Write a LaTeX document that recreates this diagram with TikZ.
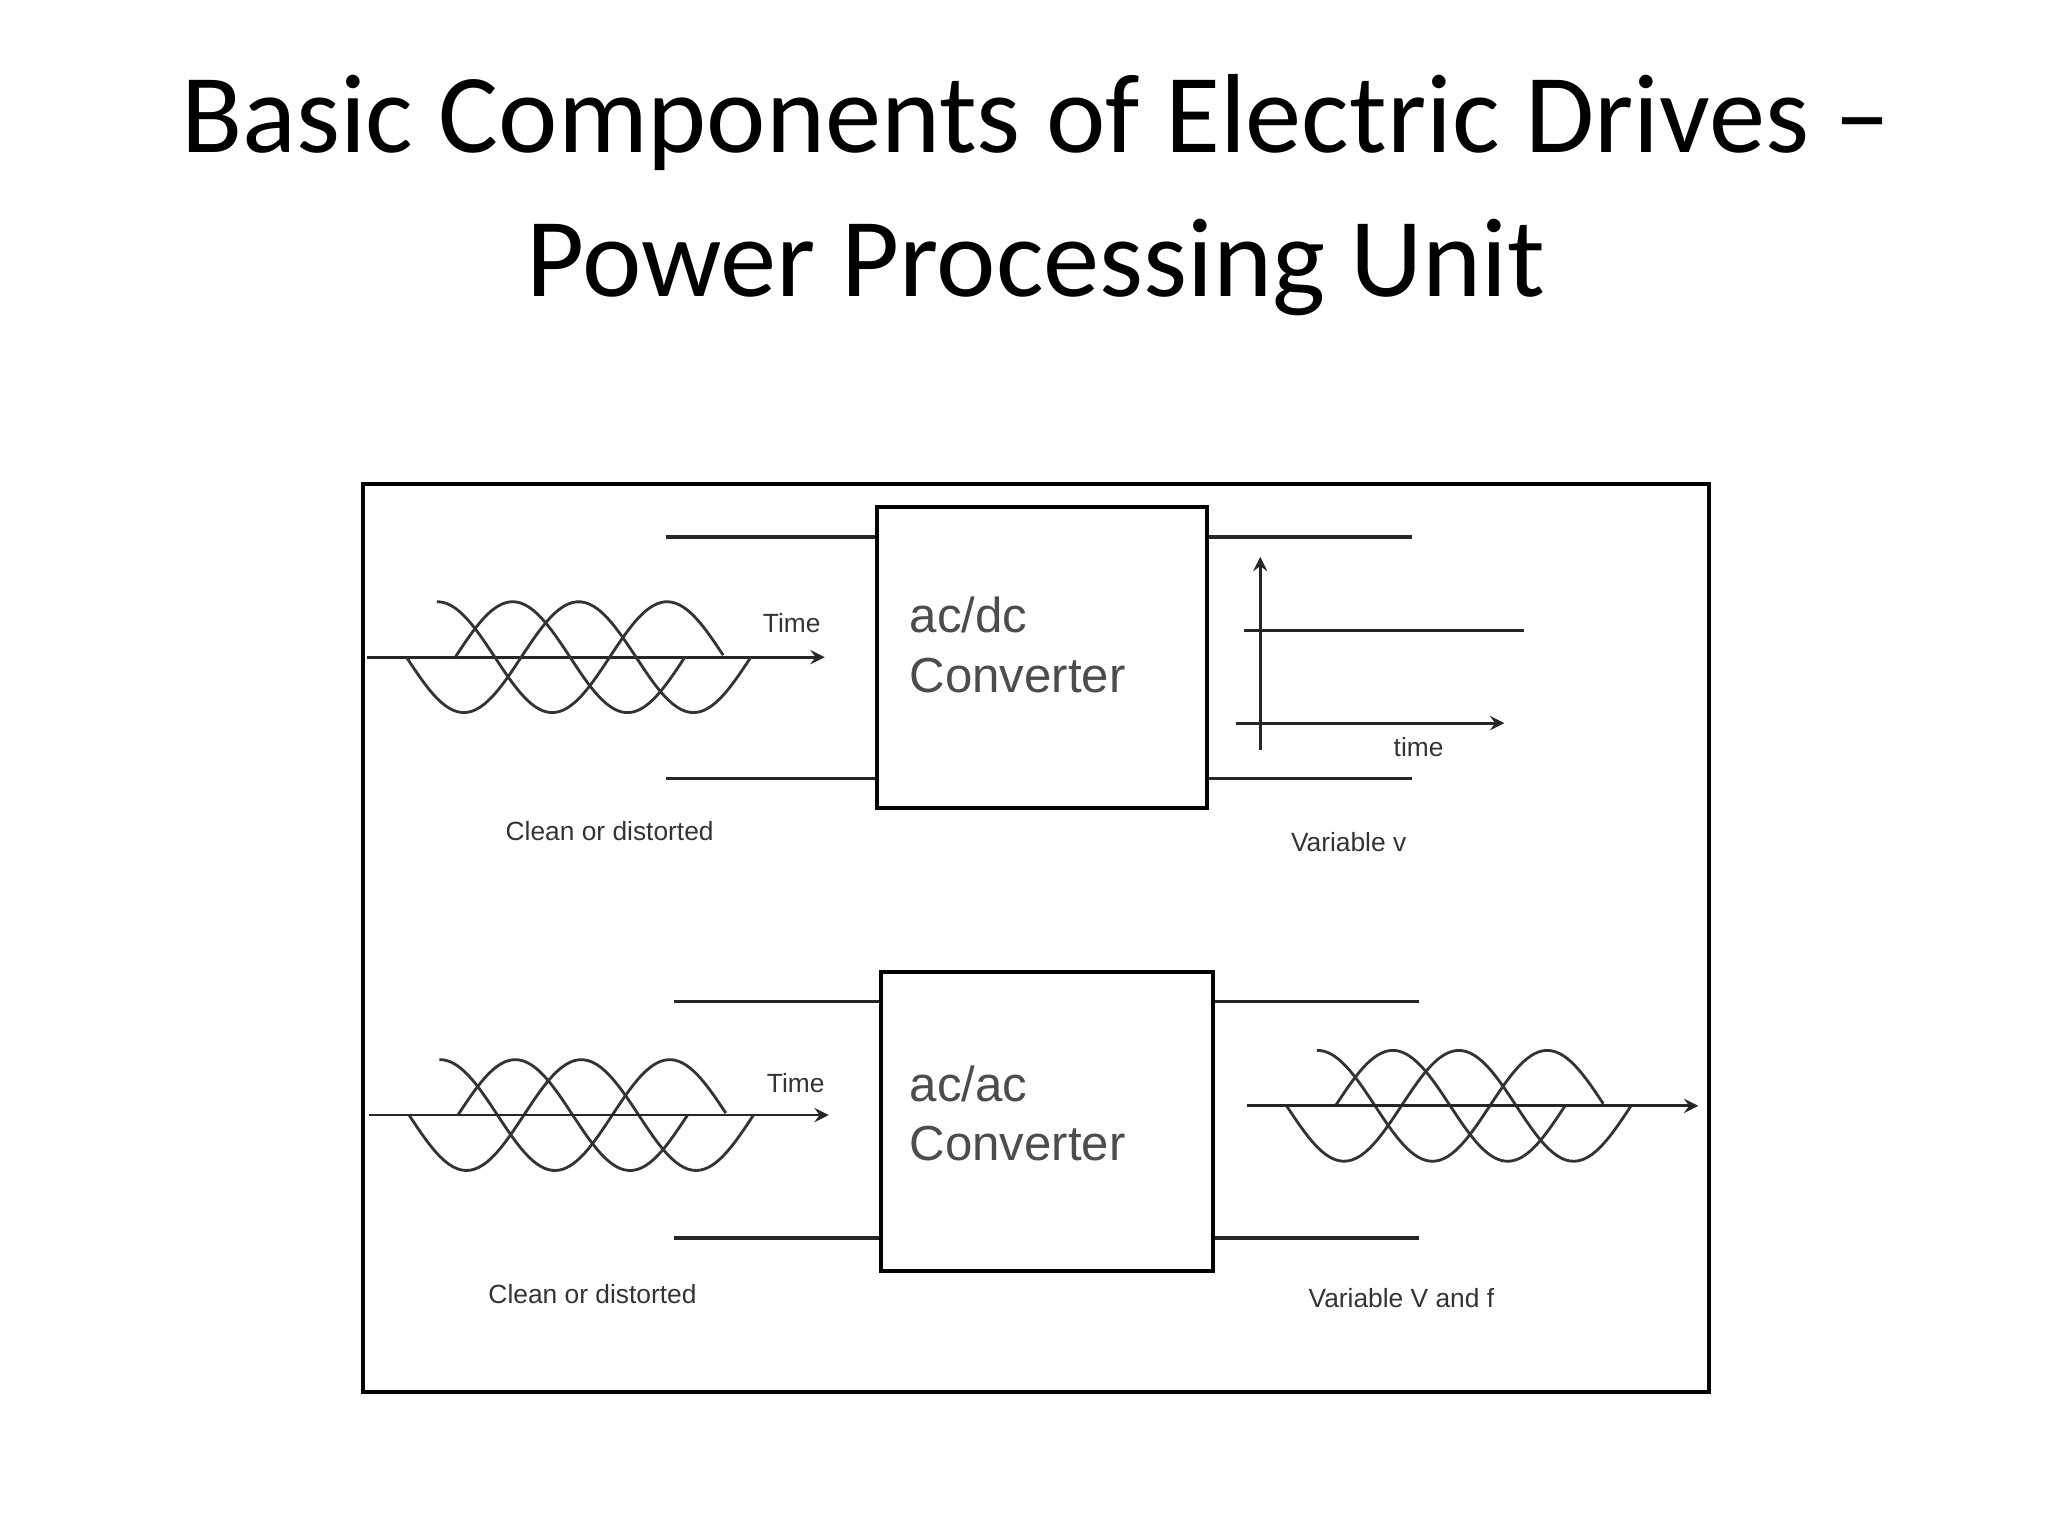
\documentclass[tikz,border=0pt]{standalone}
\usepackage{fontspec}
\setmainfont{Liberation Sans}
\newfontfamily\titlefont{Carlito}
\begin{document}
\begin{tikzpicture}[x=0.013196cm,y=-0.013196cm,
  ln/.style={line width=1pt,black!85},
  bx/.style={draw,line width=1.1pt,inner sep=0pt,anchor=north west},
  wave/.style={line width=0.8pt,black!80,samples=80},
  ax/.style={line width=0.8pt,black!85,-stealth},
  small/.style={font=\fontsize{7.5}{9}\selectfont,text=black!80},
  big/.style={font=\fontsize{14}{17}\selectfont,text=black!70,align=left,anchor=north west}]
\useasboundingbox (0,0) rectangle (1552,1164);
\node[font=\titlefont\fontsize{32}{41}\selectfont,align=center] (title) at (785,148) {Basic Components of Electric Drives \textendash\\Power Processing Unit};
\draw[line width=1.1pt] (275,367) rectangle (1295,1055);
% top
\node[bx,minimum width=250*0.013196cm,minimum height=228*0.013196cm] (b1) at (663,383) {};
\node[big] (t1) at (680,443) {ac/dc\\Converter};
\draw[ln] (505,407) -- (b1.north west|-0,407);
\draw[ln] (505,590) -- (b1.north west|-0,590);
\draw[ln] (b1.north east|-0,407) -- (1070,407);
\draw[ln] (b1.north east|-0,590) -- (1070,590);
\coordinate (a1s) at (278,498); \coordinate (a1e) at (625,498);
\draw[ax] (a1s) -- (a1e);
\foreach \dx/\dy in {0/498, 2/845, 667/838}{
  \draw[wave,domain=308:569,variable=\t] plot ({\t+\dx},{\dy+42*sin(2.069*(\t-308))});
  \draw[wave,domain=345:519,variable=\t] plot ({\t+\dx},{\dy-42*sin(2.069*(\t-345))});
  \draw[wave,domain=331:548,variable=\t] plot ({\t+\dx},{\dy-42*sin(2.069*(\t-288))});
}
\node[small] (time1) at (600,472) {Time};
\node[small] (cl1) at (462,630) {Clean or distorted};
\coordinate (v0) at (955,568); \coordinate (v1) at (955,422);
\draw[ax] (v0) -- (v1);
\coordinate (h0) at (937,548); \coordinate (h1) at (1140,548);
\draw[ax] (h0) -- (h1);
\draw[ln,line width=0.8pt] (943,478) -- (1155,478);
\node[small] (time2) at (1075,566) {time};
\node[small] (vv) at (1022,638) {Variable v};
% bottom
\node[bx,minimum width=252*0.013196cm,minimum height=227*0.013196cm] (b2) at (666,735) {};
\node[big] (t2) at (680,798) {ac/ac\\Converter};
\draw[ln] (511,759) -- (b2.north west|-0,759);
\draw[ln] (511,938) -- (b2.north west|-0,938);
\draw[ln] (b2.north east|-0,759) -- (1075,759);
\draw[ln] (b2.north east|-0,938) -- (1075,938);
\coordinate (a2s) at (280,845); \coordinate (a2e) at (628,845);
\draw[ax] (a2s) -- (a2e);
\coordinate (a3s) at (945,838); \coordinate (a3e) at (1287,838);
\draw[ax] (a3s) -- (a3e);
\node[small] (time3) at (603,821) {Time};
\node[small] (cl2) at (449,981) {Clean or distorted};
\node[small] (vf) at (1062,984) {Variable V and f};
\end{tikzpicture}
\end{document}
